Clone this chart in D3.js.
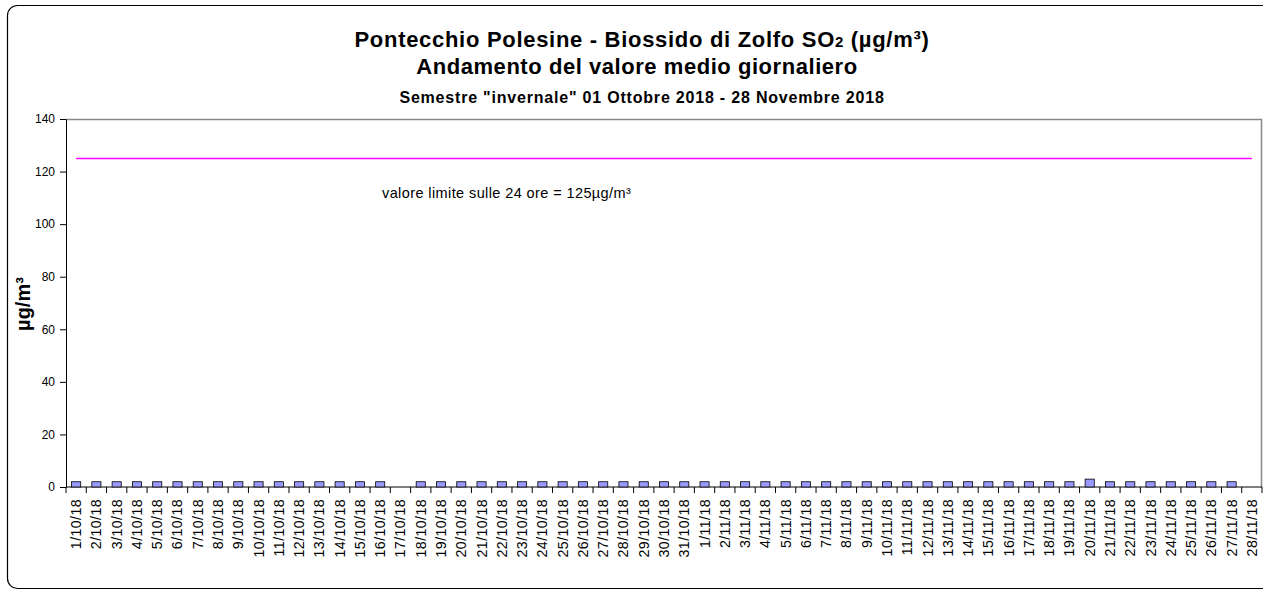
<!DOCTYPE html>
<html>
<head>
<meta charset="utf-8">
<script src="https://cdn.jsdelivr.net/npm/d3@7"></script>
<style>
  body { margin: 0; background: #fff; }
  svg { font-family: "Liberation Sans", Arial, sans-serif; }
</style>
</head>
<body>
<div id="chart"></div>
<script>
// dates 1/10/18 .. 28/11/18
const days = [];
for (let d = 1; d <= 31; d++) days.push(`${d}/10/18`);
for (let d = 1; d <= 28; d++) days.push(`${d}/11/18`);

// daily mean SO2 (µg/m³), null = no data
const values = [
  2, 2, 2, 2, 2, 2, 2, 2, 2, 2,
  2, 2, 2, 2, 2, 2, null, 2, 2, 2,
  2, 2, 2, 2, 2, 2, 2, 2, 2, 2,
  2, 2, 2, 2, 2, 2, 2, 2, 2, 2,
  2, 2, 2, 2, 2, 2, 2, 2, 2, 2,
  3, 2, 2, 2, 2, 2, 2, 2, null
];
const limitValue = 125;
const yTicks = [0, 20, 40, 60, 80, 100, 120, 140];

const width = 1263, height = 591;
const margin = { top: 119, right: 1, bottom: 104, left: 66 };

const svg = d3.select("#chart").append("svg")
  .attr("width", width)
  .attr("height", height);

// outer frame
svg.append("rect")
  .attr("x", 7.5).attr("y", 5.5)
  .attr("width", 1270).attr("height", 583)
  .attr("rx", 10)
  .attr("fill", "none")
  .attr("stroke", "#000")
  .attr("stroke-width", 1.2);

const x = d3.scaleBand()
  .domain(days)
  .range([margin.left, width - margin.right])
  .paddingInner(0.55)
  .paddingOuter(0.275);

const y = d3.scaleLinear()
  .domain([0, 140])
  .range([height - margin.bottom, margin.top]);

// plot border top/right
svg.append("path")
  .attr("d", `M${margin.left},${margin.top + 0.5}H${width - margin.right - 0.5}V${height - margin.bottom}`)
  .attr("fill", "none")
  .attr("stroke", "#888")
  .attr("stroke-width", 1.5);

// y axis
const yAxis = svg.append("g")
  .attr("transform", `translate(${margin.left},0)`)
  .call(d3.axisLeft(y).tickValues(yTicks).tickSize(6).tickPadding(5).tickSizeOuter(0));
yAxis.select(".domain").attr("stroke", "#000");
yAxis.selectAll("text").attr("font-size", 12).attr("fill", "#000");

// x axis with ticks between categories
const step = x.step();
const xAxisG = svg.append("g")
  .attr("transform", `translate(0,${height - margin.bottom})`);
xAxisG.append("line")
  .attr("x1", margin.left).attr("x2", width - margin.right)
  .attr("stroke", "#000");
xAxisG.selectAll("line.tick")
  .data(d3.range(days.length + 1))
  .enter().append("line")
  .attr("class", "tick")
  .attr("x1", i => margin.left + i * step)
  .attr("x2", i => margin.left + i * step)
  .attr("y1", 0).attr("y2", 6)
  .attr("stroke", "#000");
xAxisG.selectAll("text")
  .data(days)
  .enter().append("text")
  .attr("transform", d => `translate(${x(d) + x.bandwidth() / 2 + 5},12) rotate(-90)`)
  .attr("text-anchor", "end")
  .attr("font-size", 14.2)
  .attr("letter-spacing", 0.4)
  .text(d => d);

// bars
svg.append("g").selectAll("rect")
  .data(days.map((d, i) => ({ day: d, v: values[i] })).filter(d => d.v != null))
  .enter().append("rect")
  .attr("x", d => x(d.day))
  .attr("y", d => y(d.v))
  .attr("width", x.bandwidth())
  .attr("height", d => y(0) - y(d.v))
  .attr("fill", "#9999ff")
  .attr("stroke", "#000")
  .attr("stroke-width", 0.8);

// limit line
const cx = d => x(d) + x.bandwidth() / 2;
svg.append("line")
  .attr("x1", cx(days[0]))
  .attr("x2", cx(days[days.length - 1]))
  .attr("y1", y(limitValue)).attr("y2", y(limitValue))
  .attr("stroke", "#ff00ff")
  .attr("stroke-width", 1.5);

svg.append("text")
  .attr("x", 382).attr("y", 198)
  .attr("font-size", 14.5)
  .attr("letter-spacing", 0.4)
  .text("valore limite sulle 24 ore = 125µg/m³");

// titles
const t1 = svg.append("text")
  .attr("x", 642).attr("y", 47)
  .attr("text-anchor", "middle")
  .attr("font-size", 22)
  .attr("letter-spacing", 0.7)
  .attr("font-weight", "bold");
t1.append("tspan").text("Pontecchio Polesine - Biossido di Zolfo SO");
t1.append("tspan").attr("font-size", 15).text("2");
t1.append("tspan").text(" (µg/m³)");

svg.append("text")
  .attr("x", 637).attr("y", 74)
  .attr("text-anchor", "middle")
  .attr("font-size", 22)
  .attr("letter-spacing", 0.55)
  .attr("font-weight", "bold")
  .text("Andamento del valore medio giornaliero");

svg.append("text")
  .attr("x", 642).attr("y", 103)
  .attr("text-anchor", "middle")
  .attr("font-size", 16)
  .attr("letter-spacing", 0.8)
  .attr("font-weight", "bold")
  .text("Semestre \"invernale\" 01 Ottobre 2018 - 28 Novembre 2018");

// y label
svg.append("text")
  .attr("transform", "translate(30,304) rotate(-90)")
  .attr("text-anchor", "middle")
  .attr("font-size", 20)
  .attr("font-weight", "bold")
  .text("µg/m³");
</script>
</body>
</html>
